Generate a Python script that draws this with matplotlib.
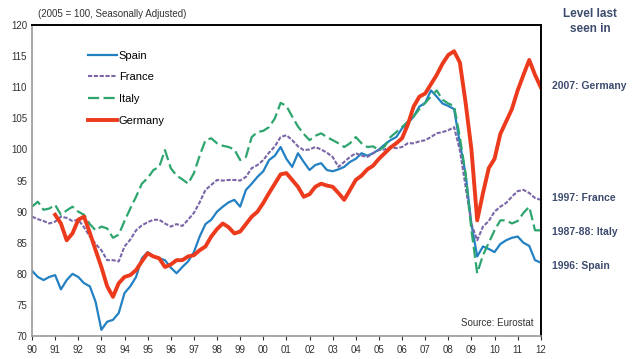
import numpy as np
import matplotlib
matplotlib.use("Agg")
import matplotlib.pyplot as plt

plt.rcParams['font.family'] = ['Liberation Sans', 'DejaVu Sans']

# quarterly readings, 1990.0 .. 2012.0
years = np.arange(1990.0, 2012.01, 0.25)
years_de = np.arange(1991.0, 2012.01, 0.25)

spain = [80.5, 79.5, 79.0, 79.5,
         79.8, 77.5, 79.0, 80.0,
         79.5, 78.5, 78.0, 75.5,
         71.0, 72.3, 72.6, 73.7,
         76.9, 78.0, 79.5, 82.5,
         83.5, 82.8, 82.5, 82.2,
         81.0, 80.1, 81.1, 82.0,
         83.5, 86.0, 88.0, 88.7,
         90.0, 90.8, 91.5, 91.9,
         90.8, 93.5, 94.5, 95.6,
         96.5, 98.3, 99.0, 100.4,
         98.5, 97.2, 99.4, 98.0,
         96.7, 97.5, 97.8, 96.7,
         96.5, 96.8, 97.2, 98.0,
         98.5, 99.4, 99.0, 99.4,
         100.0, 100.8, 101.5, 102.0,
         103.4, 104.2, 105.3, 106.9,
         107.5, 109.5, 108.5, 107.4,
         107.0, 106.5, 101.0, 96.0,
         88.0, 82.8, 84.4, 84.0,
         83.5, 84.8, 85.4, 85.8,
         86.0, 85.0, 84.5, 82.2,
         81.8]

france = [89.2, 88.8, 88.5, 88.1,
          88.4, 89.2, 89.0, 88.5,
          88.7, 87.5, 86.0, 84.8,
          83.8, 82.2, 82.2, 82.0,
          84.4, 85.5, 87.0, 87.8,
          88.3, 88.7, 88.7, 88.1,
          87.6, 88.0, 87.7, 88.7,
          89.8, 91.5, 93.5, 94.3,
          95.1, 95.0, 95.1, 95.1,
          95.0, 95.6, 97.0, 97.5,
          98.3, 99.5, 100.5, 102.0,
          102.3, 101.5, 100.5, 99.9,
          100.0, 100.4, 100.0, 99.5,
          98.8, 97.2, 98.0, 98.8,
          99.4, 99.0, 98.8, 99.4,
          99.9, 100.0, 100.4, 100.2,
          100.4, 101.0, 101.0, 101.3,
          101.5, 102.0, 102.6, 102.8,
          103.1, 103.6, 99.9, 94.0,
          88.0, 85.4, 87.6, 88.5,
          90.0, 90.8, 91.4, 92.4,
          93.3, 93.5, 93.0, 92.2,
          91.9]

italy = [90.8, 91.6, 90.3, 90.5,
         91.1, 89.5, 90.2, 90.8,
         90.0, 89.5, 88.0, 87.0,
         87.6, 87.3, 85.8, 86.3,
         88.5, 90.5, 92.4, 94.5,
         95.4, 96.7, 97.2, 99.9,
         97.0, 95.8, 95.2, 94.5,
         96.2, 99.0, 101.5, 101.8,
         101.0, 100.6, 100.4, 100.0,
         98.3, 98.8, 102.0, 102.8,
         103.0, 103.6, 105.0, 107.5,
         107.0, 105.3, 103.7, 102.5,
         101.5, 102.2, 102.6, 102.0,
         101.5, 101.0, 100.4, 101.0,
         102.0, 101.0, 100.4, 100.5,
         99.9, 100.5, 102.0, 102.8,
         103.6, 104.5, 105.3, 106.5,
         107.5, 108.5, 109.5, 108.0,
         107.4, 107.0, 102.0, 96.0,
         87.0, 80.1, 83.0, 85.0,
         87.0, 88.6, 88.6, 88.1,
         88.5, 89.8, 90.8, 87.0,
         87.0]

germany = [89.5, 88.1, 85.4, 86.5,
           88.7, 89.2, 86.6, 83.8,
           81.1, 78.0, 76.3, 78.5,
           79.5, 79.8, 80.6, 82.0,
           83.3, 82.8, 82.5, 81.1,
           81.5, 82.2, 82.2, 82.8,
           83.0, 83.8, 84.4, 86.0,
           87.2, 88.1, 87.5, 86.5,
           86.8, 88.0, 89.2, 90.0,
           91.4, 93.0, 94.5, 96.0,
           96.2, 95.1, 94.0, 92.4,
           92.8, 94.0, 94.5, 94.2,
           94.0, 93.0, 91.9, 93.5,
           95.1, 95.8, 96.8, 97.4,
           98.5, 99.4, 100.3, 101.0,
           101.8, 104.0, 106.9, 108.5,
           109.0, 110.5, 112.0, 113.8,
           115.2, 115.8, 114.0, 107.5,
           100.0, 88.6, 93.0, 97.0,
           98.5, 102.5, 104.5, 106.5,
           109.5, 112.0, 114.4, 112.0,
           110.0]

tick_years = list(range(1990, 2013))
tick_labels = ['%02d' % (y % 100) for y in tick_years]

notes = ['2007: Germany', '1997: France', '1987-88: Italy', '1996: Spain']
note_levels = [110.2, 92.2, 86.7, 81.2]

fig = plt.figure(figsize=(6.4, 3.59), dpi=100)
ax = fig.add_axes([0.05, 0.064, 0.795, 0.866])

ax.plot(years, spain, color='#2381c3', lw=1.6, label='Spain')
ax.plot(years, france, color='#7a66a8', lw=1.5, ls=(0, (2, 0.8)), label='France')
ax.plot(years, italy, color='#2ea56f', lw=1.6, ls=(0, (5, 2)), label='Italy')
ax.plot(years_de, germany, color='#ec3a1c', lw=2.8, label='Germany')

ax.set_xlim(1990, 2012)
ax.set_ylim(70, 120)
ax.set_yticks(range(70, 121, 5))
ax.set_xticks(tick_years)
ax.set_xticklabels(tick_labels)
ax.tick_params(labelsize=7, colors='#333333', length=3, width=0.8)
ax.tick_params(axis='y', length=0)
for s in ['left', 'bottom']:
    ax.spines[s].set_color('#9a9a9a')
    ax.spines[s].set_linewidth(1.2)
for s in ['top', 'right']:
    ax.spines[s].set_color('black')
    ax.spines[s].set_linewidth(1.4)

ax.legend(loc='upper left', bbox_to_anchor=(0.09, 0.95), frameon=False,
          fontsize=8, handlelength=2.6, handletextpad=0.2, labelspacing=1.05)

fig.text(0.059, 0.962, '(2005 = 100, Seasonally Adjusted)', fontsize=7,
         color='#333333', va='center')
ax.text(0.985, 0.025, 'Source: Eurostat', transform=ax.transAxes,
        fontsize=7, color='#333333', ha='right', va='bottom')

fig.text(0.922, 0.94, 'Level last\nseen in', fontsize=8.5, fontweight='bold',
         color='#3d4c6e', ha='center', va='center', linespacing=1.3)
for txt, lvl in zip(notes, note_levels):
    ax.annotate(txt, xy=(1.0, lvl), xycoords=('axes fraction', 'data'),
                xytext=(8, 0), textcoords='offset points', fontsize=7.5,
                fontweight='bold', color='#3d4c6e', va='center', ha='left',
                annotation_clip=False)

fig.savefig('out.png', dpi=100)
